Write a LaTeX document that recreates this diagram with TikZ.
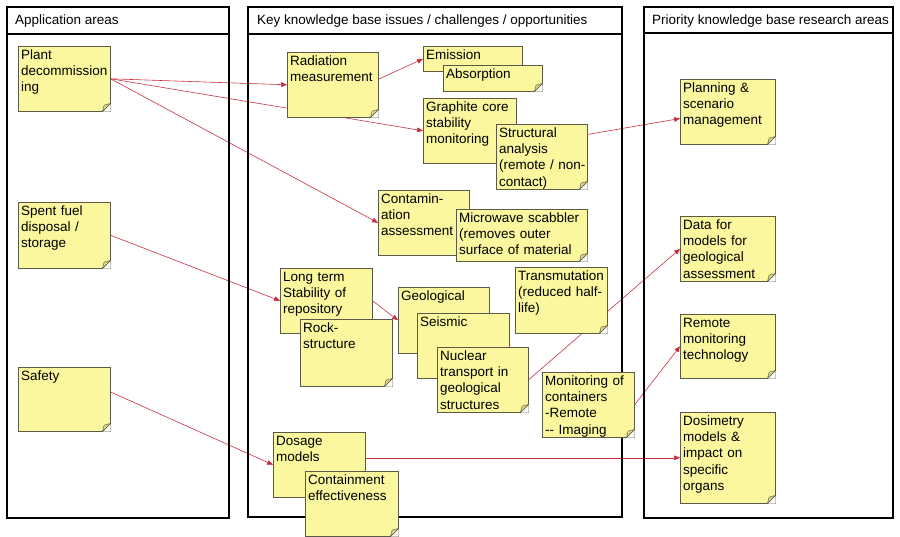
\documentclass[tikz,border=0pt]{standalone}
\usepackage{fontspec}
\setmainfont{Liberation Sans}
\usetikzlibrary{arrows.meta,backgrounds}
\definecolor{noteyellow}{RGB}{250,247,158}
\definecolor{notedraw}{RGB}{90,90,70}
\definecolor{flapyellow}{RGB}{220,215,135}
\definecolor{linkred}{RGB}{200,45,60}
\newcommand\notefont{\fontsize{11.5}{14}\selectfont}
\hyphenpenalty=10000
\exhyphenpenalty=10000

\begin{document}
\begin{tikzpicture}[x=0.03cm, y=-0.03cm,
    frame/.style={draw=black, line width=1.6pt},
    headtext/.style={anchor=base west, inner sep=0pt, font=\notefont},
    flap/.style={draw=notedraw, fill=flapyellow, line width=0.4pt, line join=round},
    notebox/.style={draw=notedraw, line width=0.5pt, fill=noteyellow, anchor=north west,
      align=left, inner xsep=2.5pt, inner ysep=2pt, text height=9pt, font=\notefont},
    note/.code 2 args={\pgfmathsetlengthmacro\notewd{#1*0.03cm-5pt}%
      \pgfmathsetlengthmacro\notedp{#2*0.03cm-13pt}%
      \tikzset{notebox, text width=\notewd, text depth=\notedp}},
    link/.style={draw=linkred, line width=0.5pt, -{Triangle[length=5pt,width=4pt]}}]
  \useasboundingbox (0,0) rectangle (900,537);

  % the three columns
  \draw[frame] (7,7) rectangle (229,518) (7,34) -- (229,34);
  \draw[frame] (248,7) rectangle (622,517) (248,34) -- (622,34);
  \draw[frame] (644,7) rectangle (893,518) (644,33) -- (893,33);
  \node[headtext] (apphead) at (15,25) {Application areas};
  \node[headtext] (keyhead) at (257,25) {Key knowledge base issues / challenges / opportunities};
  \node[headtext] (prihead) at (652,25) {Priority knowledge base research areas};

  % application areas
  \node[note={92}{65}] (plant) at (18,46) {Plant\\decommission\\ing};
  \node[note={92}{66}] (spent) at (18,202) {Spent fuel\\disposal /\\storage};
  \node[note={92}{64}] (safety) at (18,367) {Safety};

  % key issues
  \node[note={91}{65}] (rad) at (287,52) {Radiation\\measurement};
  \node[note={99}{25}] (emis) at (423,46) {Emission};
  \node[note={99}{26}] (absorp) at (443,65) {Absorption};
  \node[note={93}{65}] (graph) at (423,98) {Graphite core\\stability\\monitoring};
  \node[note={91}{65}] (struct) at (496,124) {Structural\\analysis\\(remote~/~non-\\contact)};
  \node[note={91}{65}] (contam) at (378,190) {Contamin-\\ation\\assessment};
  \node[note={131}{52}] (micro) at (456,209) {Microwave scabbler\\(removes outer\\surface of material};
  \node[note={92}{65}] (longterm) at (280,268) {Long term\\Stability of\\repository};
  \node[note={92}{67}] (rock) at (300,319) {Rock-\\structure};
  \node[note={91}{66}] (geol) at (398,287) {Geological};
  \node[note={92}{65}] (seis) at (417,313) {Seismic};
  \node[note={91}{65}] (nuclear) at (437,347) {Nuclear\\transport in\\geological\\structures};
  \node[note={92}{66}] (trans) at (515,267) {Transmutation\\(reduced half-\\life)};
  \node[note={92}{65}] (monit) at (542,372) {Monitoring of\\containers\\-Remote\\-{}- Imaging};
  \node[note={92}{65}] (dosage) at (273,432) {Dosage\\models};
  \node[note={93}{65}] (contain) at (305,471) {Containment\\effectiveness};

  % priority research areas
  \node[note={95}{65}] (plan) at (680,79) {Planning \&\\scenario\\management};
  \node[note={95}{65}] (data) at (680,216) {Data for\\models for\\geological\\assessment};
  \node[note={95}{64}] (remote) at (680,314) {Remote\\monitoring\\technology};
  \node[note={95}{91}] (dosim) at (680,412) {Dosimetry\\models \&\\impact on\\specific\\organs};

  % folded corners (only where not covered)
  \foreach \n in {plant,spent,safety,rad,absorp,struct,micro,rock,nuclear,trans,monit,contain,plan,data,remote,dosim} {
    \fill[white] ([xshift=-7pt]\n.south east) -- (\n.south east) -- ([yshift=7pt]\n.south east) -- cycle;
    \draw[notedraw, line width=0.5pt] ([xshift=-7pt]\n.south east) -- ([yshift=7pt]\n.south east);
    \path[flap] ([xshift=-7pt]\n.south east) -- ([yshift=7pt]\n.south east)
      -- ([xshift=-5.5pt,yshift=5.5pt]\n.south east) -- cycle;
  }

  % links
  \begin{scope}[on background layer]
    \draw[link] (plant.east) -- (rad.west);
    \draw[link] (plant.east) -- (graph.west);
    \draw[link] (plant.east) -- (contam.west);
    \draw[link] (rad.7) -- (emis.west);
    \draw[link] (struct.26) -- (plan.188);
    \draw[link] (spent.east) -- (longterm.west);
    \draw[link] (longterm.east) -- (geol.west);
    \draw[link] (nuclear.east) -- (data.west);
    \draw[link] (monit.east) -- (remote.west);
    \draw[link] (safety.9) -- (dosage.west);
    \draw[link] (dosage.east |- dosim.west) -- (dosim.west);
  \end{scope}
\end{tikzpicture}
\end{document}
